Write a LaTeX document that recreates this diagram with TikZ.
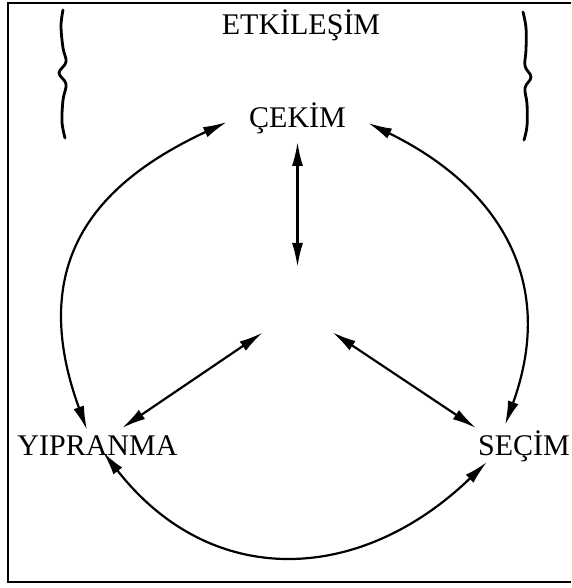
\documentclass[tikz,border=0pt]{standalone}
\usepackage{fontspec}
\setmainfont{Liberation Serif}
\usetikzlibrary{arrows.meta}

\begin{document}
\begin{tikzpicture}[x=1pt, y=1pt,
  lbl/.style={anchor=base, inner sep=0pt, font=\fontsize{30}{36}\selectfont},
  link/.style={{Latex[length=24pt,width=11pt]}-{Latex[length=24pt,width=11pt]}, line width=2.2pt},
  curly/.style={line width=2.8pt, line cap=round}]
  \useasboundingbox (0,0) rectangle (571,588);
  \draw[line width=1.6pt] (571,585) -- (8,585) -- (8,6) -- (571,6);
  % labels
  \node[lbl] (etk) at (301,553) {ETKİLEŞİM};
  \node[lbl] (cekim) at (297.5,460) {ÇEKİM};
  \node[lbl] (yip) at (97.5,132) {YIPRANMA};
  \node[lbl] (secim) at (524,132) {SEÇİM};
  \coordinate (hub) at (297.5,279);
  % braces
  \draw[curly] plot[smooth, tension=0.6] coordinates {(63,578) (61,562) (63,540) (66,526) (59,515) (66,504) (63,488) (62,466) (65,450)};
  \draw[curly] plot[smooth, tension=0.6] coordinates {(523,576) (526,560) (526,538) (525,522) (531,511) (525,500) (527,484) (527,462) (524,448)};
  % outer ring
  \draw[link] ([shift={(-22,6)}]cekim.base west) to[out=205, in=110, out looseness=1.05, in looseness=1.38] ([shift={(-10.5,26)}]yip.base);
  \draw[link] ([shift={(22,5)}]cekim.base east) to[out=-26, in=70, out looseness=1.08, in looseness=1.22] ([shift={(-19,31)}]secim.base);
  \draw[link] ([shift={(5.5,4)}]yip.base) to[out=-52, in=224, looseness=1.17] ([shift={(9,-6)}]secim.base west);
  % spokes
  \draw[link, shorten <=42pt] (hub) -- ([yshift=-14pt]cekim.base);
  \draw[link, shorten <=42pt] (hub) -- ([shift={(24.5,28)}]yip.base);
  \draw[link, shorten <=42pt] (hub) -- ([shift={(-2,28)}]secim.base west);
\end{tikzpicture}
\end{document}
